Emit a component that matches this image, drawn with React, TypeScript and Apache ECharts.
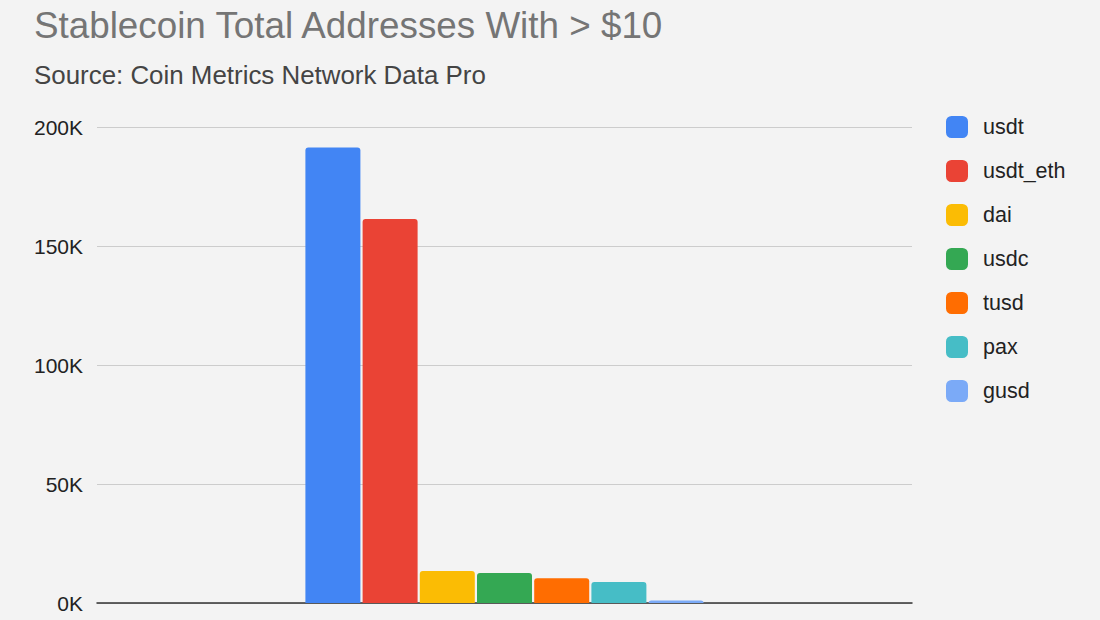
import React, { useEffect, useRef } from "react";
import * as echarts from "echarts";

const categories = [""];
const seriesNames = ["usdt", "usdt_eth", "dai", "usdc", "tusd", "pax", "gusd"];
const seriesValues = [191400, 161300, 13400, 12600, 10400, 8800, 1100];
const seriesColors = ["#4285F4", "#EA4335", "#FBBC04", "#34A853", "#FF6D01", "#46BDC6", "#7BAAF7"];
const yTicks = [0, 50000, 100000, 150000, 200000];

const FONT = "'Liberation Sans', Arial, sans-serif";

export default function App() {
  const ref = useRef<HTMLDivElement>(null);
  useEffect(() => {
    if (!ref.current) return;
    document.body.style.margin = "0";
    document.body.style.background = "#f3f3f3";
    const chart = echarts.init(ref.current, undefined, { renderer: "svg" });
    chart.setOption({
      animation: false,
      backgroundColor: "#f3f3f3",
      textStyle: { fontFamily: FONT },
      title: [
        {
          text: "Stablecoin Total Addresses With > $10",
          left: 34,
          top: 7,
          padding: 0,
          textStyle: { fontFamily: FONT, fontSize: 36.8, fontWeight: "normal", color: "#757575" },
        },
        {
          text: "Source: Coin Metrics Network Data Pro",
          left: 34,
          top: 62,
          padding: 0,
          textStyle: { fontFamily: FONT, fontSize: 25.9, fontWeight: "normal", color: "#444444" },
        },
      ],
      legend: {
        orient: "vertical",
        left: 946,
        top: 116,
        padding: 0,
        itemWidth: 22,
        itemHeight: 22,
        itemGap: 22,
        icon: "roundRect",
        data: seriesNames,
        textStyle: { fontFamily: FONT, fontSize: 21.5, color: "#222222", padding: [0, 0, 0, 10] },
      },
      grid: { left: 97, right: 188, top: 127, bottom: 17, containLabel: false },
      xAxis: {
        type: "category",
        data: categories,
        axisLine: { lineStyle: { color: "#333333", width: 1.5 } },
        axisTick: { show: false },
        axisLabel: { show: false },
      },
      yAxis: {
        type: "value",
        min: yTicks[0],
        max: yTicks[yTicks.length - 1],
        interval: 50000,
        axisLine: { show: false },
        axisTick: { show: false },
        splitLine: { lineStyle: { color: "#cccccc" } },
        axisLabel: {
          fontFamily: FONT,
          fontSize: 21,
          color: "#222222",
          margin: 14,
          formatter: (v: number) => `${v / 1000}K`,
        },
      },
      series: seriesNames.map((name, i) => ({
        name,
        type: "bar",
        data: [seriesValues[i]],
        barWidth: 55,
        barGap: "4%",
        itemStyle: { color: seriesColors[i], borderRadius: [3, 3, 0, 0] },
      })),
    });
    return () => chart.dispose();
  }, []);
  return <div ref={ref} style={{ position: "fixed", left: 0, top: 0, width: 1100, height: 620 }} />;
}
